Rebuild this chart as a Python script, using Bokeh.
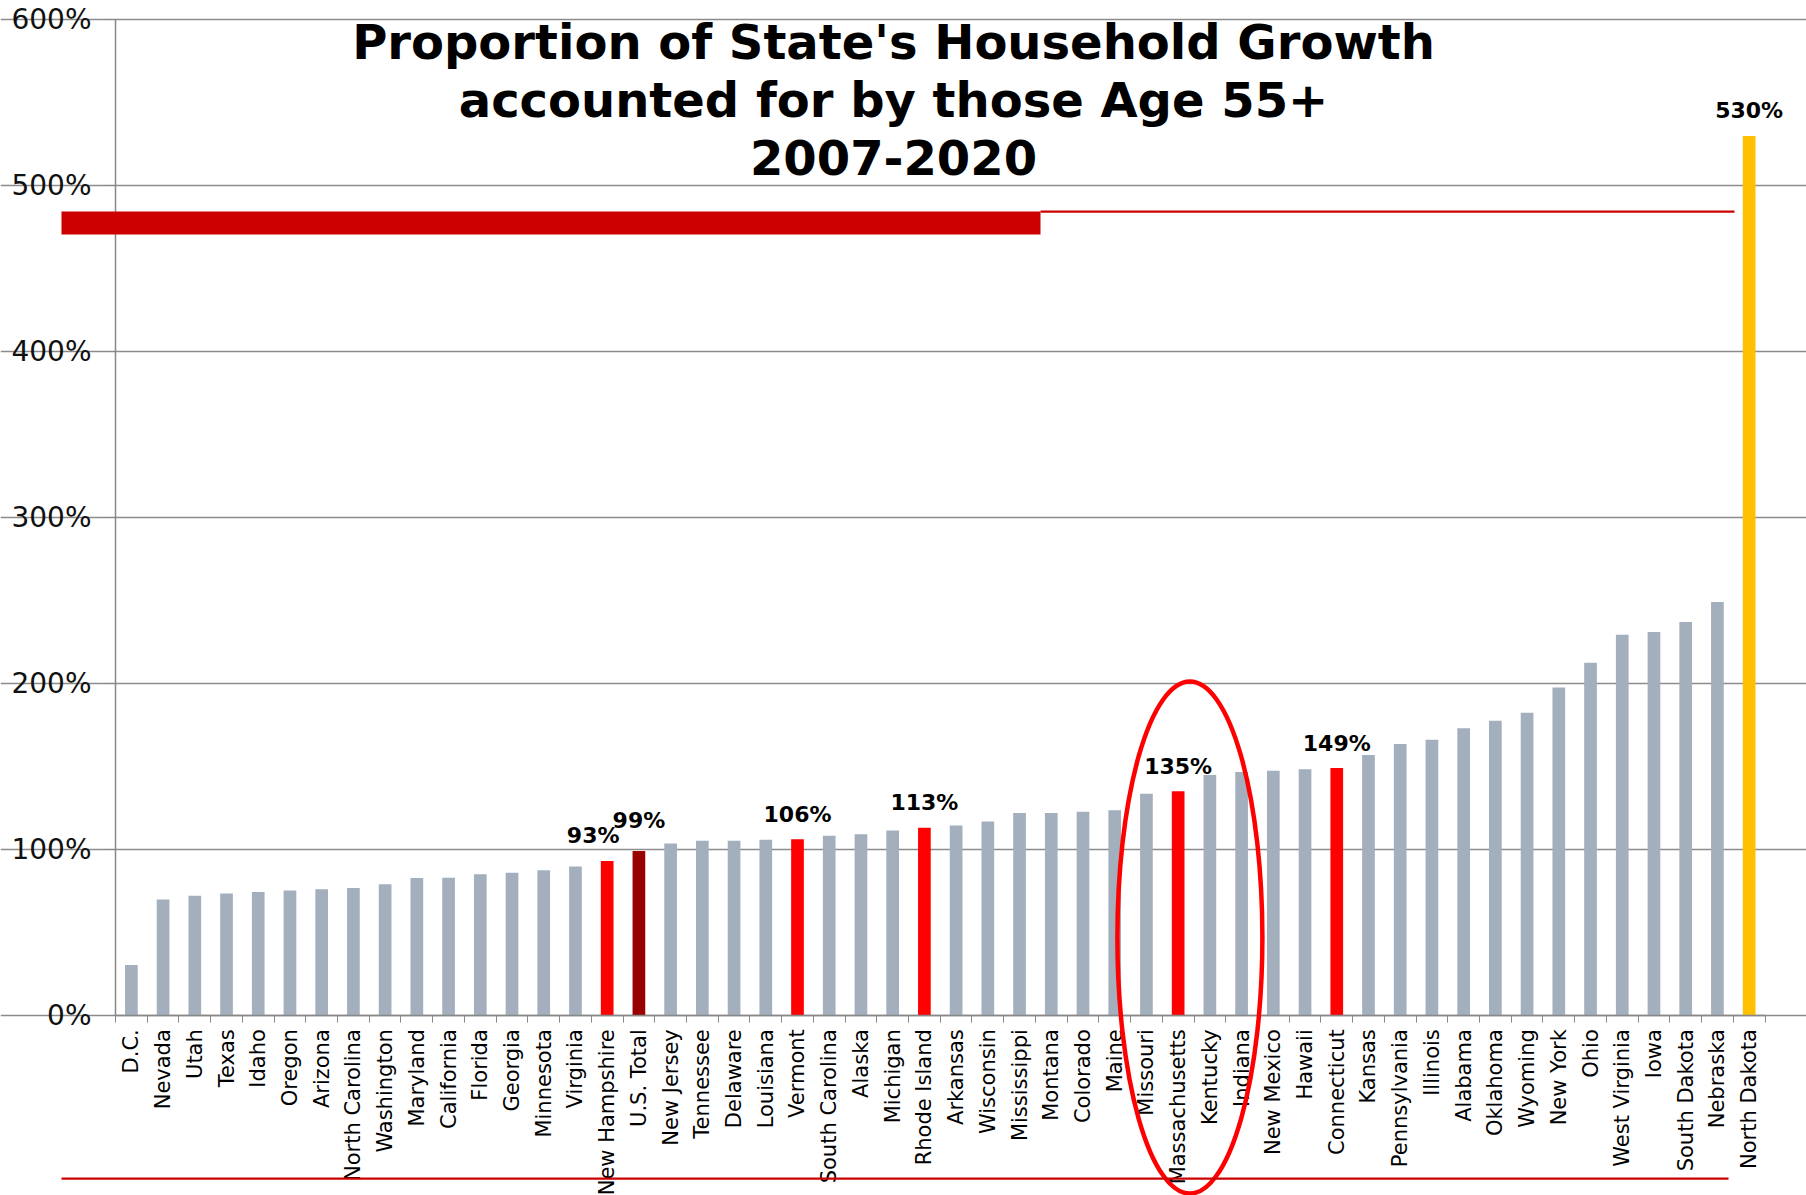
import math
from bokeh.plotting import figure
from bokeh.models import (Range1d, FixedTicker, PrintfTickFormatter, Label,
                          BoxAnnotation, ColumnDataSource)
from bokeh.core.properties import value
from bokeh.embed import file_html
from bokeh.resources import INLINE

# ---------------- data ----------------
states = ["D.C.", "Nevada", "Utah", "Texas", "Idaho", "Oregon", "Arizona",
          "North Carolina", "Washington", "Maryland", "California", "Florida",
          "Georgia", "Minnesota", "Virginia", "New Hampshire", "U.S. Total",
          "New Jersey", "Tennessee", "Delaware", "Louisiana", "Vermont",
          "South Carolina", "Alaska", "Michigan", "Rhode Island", "Arkansas",
          "Wisconsin", "Mississippi", "Montana", "Colorado", "Maine", "Missouri",
          "Massachusetts", "Kentucky", "Indiana", "New Mexico", "Hawaii",
          "Connecticut", "Kansas", "Pennsylvania", "Illinois", "Alabama",
          "Oklahoma", "Wyoming", "New York", "Ohio", "West Virginia", "Iowa",
          "South Dakota", "Nebraska", "North Dakota"]
share_pct = [30.3, 69.8, 72.0, 73.3, 74.3, 75.1, 75.9,
             76.7, 78.9, 82.7, 82.8, 85.0,
             85.9, 87.3, 89.7, 93, 99,
             103.5, 105.2, 105.2, 105.8, 106,
             108.2, 109.0, 111.3, 113, 114.3,
             116.8, 121.9, 121.9, 122.6, 123.6, 133.5,
             135, 144.8, 146.6, 147.3, 148.3,
             149, 156.8, 163.5, 166.1, 173.0,
             177.5, 182.3, 197.5, 212.5, 229.3, 231.0,
             237.0, 249.0, 530]
highlight_states = ["New Hampshire", "Vermont", "Rhode Island", "Massachusetts", "Connecticut"]
total_label = "U.S. Total"
top_state = "North Dakota"
labeled = ["New Hampshire", "U.S. Total", "Vermont", "Rhode Island",
           "Massachusetts", "Connecticut", "North Dakota"]
y_ticks = [0, 100, 200, 300, 400, 500, 600]
title_lines = ["Proportion of State's Household Growth",
               "accounted for by those Age 55+",
               "2007-2020"]
circled_state = "Massachusetts"

# ---------------- styling ----------------
W, H = 1806, 1195
GRAY_BAR = "#A3AFBD"
RED = "#FF0000"
DARK_RED = "#990000"
YELLOW = "#FFC000"
DECOR_RED = "#CC0000"
FONT = "DejaVu Sans"

n = len(states)
# pixel geometry of the reference plot area
ax_left_px, ax_right_px = 115.0, 1764.5
zero_px, px_per_100 = 1014.7, 165.9
cat_px = (ax_right_px - ax_left_px) / n
x0 = -0.5 - ax_left_px / cat_px
x1 = (n - 0.5) + (W - ax_right_px) / cat_px
ytop = zero_px / px_per_100 * 100
ybot = -(H - zero_px) / px_per_100 * 100

def X(px):
    return x0 + px / cat_px

def Y(py):
    return (zero_px - py) / px_per_100 * 100

colors = []
for s in states:
    if s == total_label:
        colors.append(DARK_RED)
    elif s == top_state:
        colors.append(YELLOW)
    elif s in highlight_states:
        colors.append(RED)
    else:
        colors.append(GRAY_BAR)

src = ColumnDataSource(dict(x=list(range(n)), top=share_pct, color=colors, name=states))

p = figure(width=W, height=H, output_backend="svg", toolbar_location=None,
           x_range=Range1d(x0, x1), y_range=Range1d(ybot, ytop),
           min_border=0, title=None, tools="")
p.outline_line_color = None
p.background_fill_color = "white"
p.border_fill_color = "white"

p.vbar(x="x", top="top", width=0.4, bottom=0, color="color", line_color=None, source=src)

# ---- axes ----
xt = FixedTicker(ticks=list(range(n)), minor_ticks=[i - 0.5 for i in range(n + 1)])
xa = p.xaxis[0]
xa.ticker = xt
xa.fixed_location = 0
xa.bounds = (-0.5, n - 0.5)
xa.major_label_overrides = {i: s for i, s in enumerate(states)}
xa.major_label_orientation = math.pi / 2
xa.major_tick_out = 0
xa.major_tick_in = 0
xa.minor_tick_out = 7
xa.minor_tick_in = 0
xa.minor_tick_line_color = "#888888"
xa.axis_line_color = "#888888"
xa.axis_line_width = 1.5
xa.major_label_text_font = FONT
xa.major_label_text_font_size = "21px"
xa.major_label_text_color = "black"
xa.major_label_standoff = 7

yt = FixedTicker(ticks=y_ticks, minor_ticks=[])
ya = p.yaxis[0]
ya.ticker = yt
ya.fixed_location = -0.5
ya.bounds = (0, 600)
ya.formatter = PrintfTickFormatter(format="%d%%")
ya.major_tick_out = 8
ya.major_tick_in = 0
ya.minor_tick_out = 0
ya.minor_tick_in = 0
ya.major_tick_line_color = "#888888"
ya.axis_line_color = "#888888"
ya.axis_line_width = 1.5
ya.major_label_text_font = FONT
ya.major_label_text_font_size = "28px"
ya.major_label_text_color = "#111111"
ya.major_label_standoff = 16

p.xgrid.visible = False
p.ygrid.ticker = yt
p.ygrid.bounds = (-0.5, n - 0.5)
p.ygrid.grid_line_color = "#8c8c8c"
p.ygrid.grid_line_width = 1.5

# ---- data labels ----
lab_x, lab_y, lab_t, lab_dx, lab_dy = [], [], [], [], []
for s in labeled:
    i = states.index(s)
    lab_x.append(i)
    lab_y.append(share_pct[i])
    lab_t.append(f"{share_pct[i]:.0f}%")
    lab_dx.append(-14 if s == "New Hampshire" else 0)
    lab_dy.append(-30 if s == total_label else -25)
p.text(x=lab_x, y=lab_y, text=lab_t, x_offset=lab_dx, y_offset=lab_dy,
       text_align="center", text_baseline="middle",
       text_font=value(FONT), text_font_style="bold", text_font_size="22px",
       text_color="black")

# ---- title (inside plot area) ----
for k, (line, py) in enumerate(zip(title_lines, [41.5, 99.0, 156.6])):
    p.add_layout(Label(x=X(893), y=Y(py), text=line, text_align="center",
                       text_baseline="middle", text_font=FONT,
                       text_font_size="48px", text_font_style="bold",
                       text_color="black"))

# ---- red decorative bars / lines ----
p.add_layout(BoxAnnotation(left=X(61), right=X(1040), top=Y(211), bottom=Y(234),
                           fill_color=DECOR_RED, fill_alpha=1.0, line_alpha=0,
                           level="overlay"))
p.add_layout(BoxAnnotation(left=X(1040), right=X(1734), top=Y(210), bottom=Y(212.2),
                           fill_color=DECOR_RED, fill_alpha=1.0, line_alpha=0,
                           level="overlay"))
p.add_layout(BoxAnnotation(left=X(61), right=X(1728), top=Y(1177), bottom=Y(1179.2),
                           fill_color=DECOR_RED, fill_alpha=1.0, line_alpha=0,
                           level="overlay"))

# ---- ellipse around the circled state ----
ci = states.index(circled_state)
e = p.ellipse(x=[ci + 0.37], y=[Y(937)], width=145 / cat_px, height=512 / px_per_100 * 100,
              fill_color=None, line_color=RED, line_width=4.5)
e.level = "overlay"

open("out.html", "w").write(file_html(p, INLINE))
